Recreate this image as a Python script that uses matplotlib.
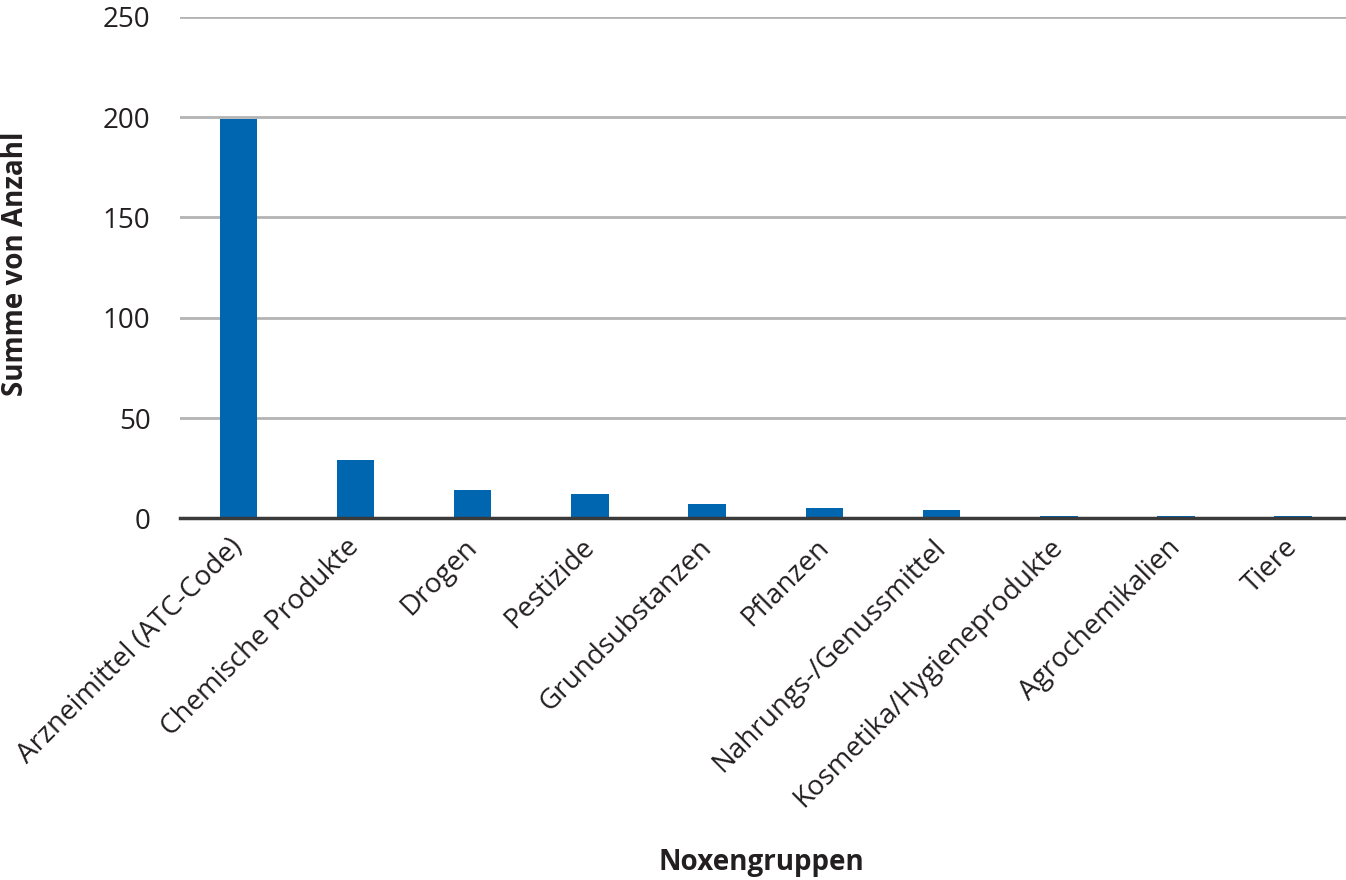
import matplotlib.pyplot as plt

# Noxengruppen und Anzahl
categories = ["Arzneimittel (ATC-Code)", "Chemische Produkte", "Drogen", "Pestizide",
              "Grundsubstanzen", "Pflanzen", "Nahrungs-/Genussmittel",
              "Kosmetika/Hygieneprodukte", "Agrochemikalien", "Tiere"]
counts = [199, 29, 14, 12, 7, 5, 4, 1, 1, 1]
yticks = [0, 50, 100, 150, 200, 250]

plt.rcParams['font.family'] = ['Open Sans', 'DejaVu Sans']

fig = plt.figure(figsize=(13.46, 8.8), dpi=100)
ax = fig.add_axes([0.1335, 0.411, 0.8665, 0.570])

x = list(range(len(categories)))
ax.bar(x, counts, width=0.32, color='#0066b0', zorder=3)

ax.set_ylim(0, 250)
ax.set_xlim(-0.5, 9.45)
ax.set_yticks(yticks)
ax.grid(axis='y', color='#b3b3b3', linewidth=2, zorder=0)
ax.tick_params(axis='both', length=0, labelsize=20, colors='#231f20')
ax.tick_params(axis='y', pad=21)
ax.tick_params(axis='x', pad=18)

ax.set_xticks(x)
ax.set_xticklabels(categories, rotation=45, ha='right', va='center',
                   rotation_mode='anchor')

for side in ['top', 'right', 'left']:
    ax.spines[side].set_visible(False)
ax.spines['bottom'].set_color('#3a3a3a')
ax.spines['bottom'].set_linewidth(2.5)
ax.spines['bottom'].set_zorder(4)

fig.text(0.0115, 0.70, 'Summe von Anzahl', rotation=90, ha='center', va='center',
         fontsize=20, fontweight='bold', color='#231f20')
fig.text(0.566, 0.02, 'Noxengruppen', ha='center', va='center',
         fontsize=20, fontweight='bold', color='#231f20')

fig.savefig('out.png', dpi=100)
